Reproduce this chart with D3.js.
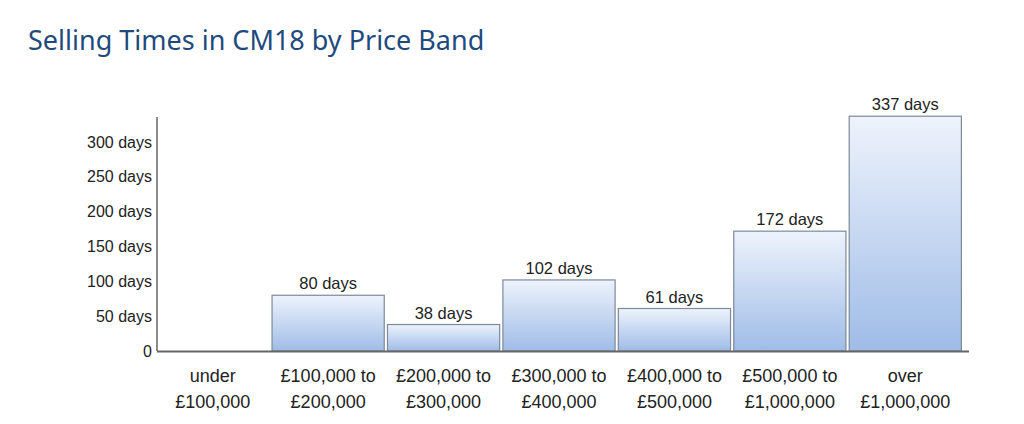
<!DOCTYPE html>
<html>
<head>
<meta charset="utf-8">
<script src="https://cdn.jsdelivr.net/npm/d3@7"></script>
<style>
  body { margin: 0; background: #fff; }
  svg { display: block; }
</style>
</head>
<body>
<div id="body"></div>
<script>
//DATA
var bands = [
  ["under", "£100,000"],
  ["£100,000 to", "£200,000"],
  ["£200,000 to", "£300,000"],
  ["£300,000 to", "£400,000"],
  ["£400,000 to", "£500,000"],
  ["£500,000 to", "£1,000,000"],
  ["over", "£1,000,000"]
];
var days = [0, 80, 38, 102, 61, 172, 337];
var yTicks = [0, 50, 100, 150, 200, 250, 300];

var width = 1024;
var height = 424;
var left = 157, base = 351;

var svg = d3.select("#body").append("svg")
  .attr("width", width)
  .attr("height", height);

//gradient for the bars, light at top
var grad = svg.append("defs").append("linearGradient")
  .attr("id", "barfill")
  .attr("x1", 0).attr("y1", 0).attr("x2", 0).attr("y2", 1);
grad.append("stop").attr("offset", "0%").attr("stop-color", "#eef3fc");
grad.append("stop").attr("offset", "100%").attr("stop-color", "#9fbce7");

//title
svg.append("text")
  .attr("x", 28)
  .attr("y", 50)
  .attr("fill", "#1f4a7d")
  .style("font-family", "'Noto Sans', sans-serif")
  .style("font-size", "27px")
  .text("Selling Times in CM18 by Price Band");

var x = d3.scaleBand()
  .domain(d3.range(bands.length))
  .range([155, 963])
  .paddingInner(0.028)
  .paddingOuter(0.014);

var y = d3.scaleLinear()
  .domain([0, 300])
  .range([base, 142]);

var font = "'Liberation Sans', Arial, sans-serif";

//bars
var bars = svg.append("g").attr("id", "data");
bars.selectAll("rect")
  .data(days)
  .enter().filter(function(d){ return d > 0; })
  .append("rect")
  .attr("x", function(d){ return x(days.indexOf(d)); })
  .attr("y", function(d){ return y(d); })
  .attr("width", x.bandwidth())
  .attr("height", function(d){ return base - y(d); })
  .attr("fill", "url(#barfill)")
  .attr("stroke", "#7c8a99")
  .attr("stroke-width", 1.2);

bars.selectAll("text.val")
  .data(days)
  .enter().filter(function(d){ return d > 0; })
  .append("text")
  .attr("class", "val")
  .attr("x", function(d){ return x(days.indexOf(d)) + x.bandwidth() / 2; })
  .attr("y", function(d){ return y(d) - 6; })
  .attr("text-anchor", "middle")
  .attr("fill", "#222")
  .style("font-family", font)
  .style("font-size", "16.5px")
  .text(function(d){ return d + " days"; });

//y axis
var yAxis = d3.axisLeft(y)
  .tickValues(yTicks)
  .tickSize(0)
  .tickPadding(5)
  .tickFormat(function(d){ return d === 0 ? "0" : d + " days"; });

var ya = svg.append("g")
  .attr("transform", "translate(" + left + ",0)")
  .call(yAxis);
ya.select(".domain").remove();
ya.selectAll("text")
  .attr("fill", "#222")
  .style("font-family", font)
  .style("font-size", "16px");

svg.append("line")
  .attr("x1", left).attr("x2", left)
  .attr("y1", 117).attr("y2", base)
  .attr("stroke", "#666").attr("stroke-width", 1.5);

//x axis
svg.append("line")
  .attr("x1", left).attr("x2", 969)
  .attr("y1", base + 0.5).attr("y2", base + 0.5)
  .attr("stroke", "#666").attr("stroke-width", 2);

var xl = svg.append("g").attr("id", "xlabels");
xl.selectAll("text")
  .data(bands)
  .enter().append("text")
  .attr("text-anchor", "middle")
  .attr("fill", "#222")
  .style("font-family", font)
  .style("font-size", "18px")
  .attr("transform", function(d, i){ return "translate(" + (x(i) + x.bandwidth() / 2) + ",0)"; })
  .each(function(d){
    var t = d3.select(this);
    t.append("tspan").attr("x", 0).attr("y", 382).text(d[0]);
    t.append("tspan").attr("x", 0).attr("y", 408).text(d[1]);
  });
</script>
</body>
</html>
